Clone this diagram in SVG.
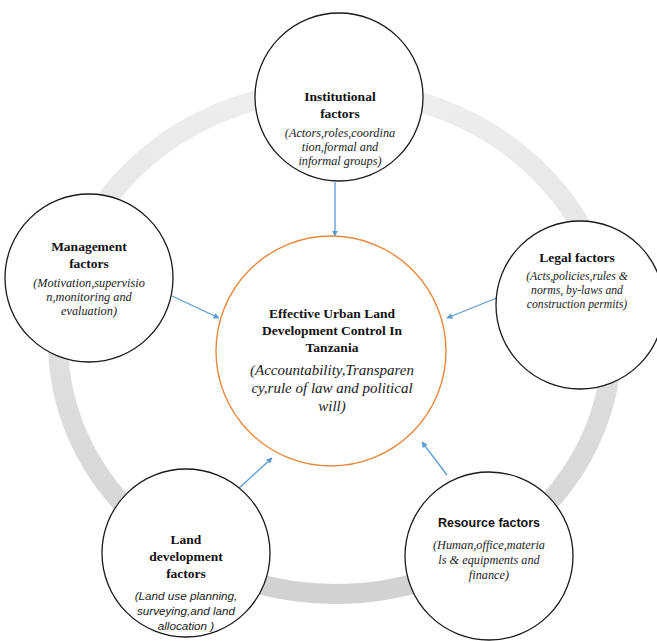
<svg xmlns="http://www.w3.org/2000/svg" width="657" height="641" viewBox="0 0 657 641">
  <style>
    .node { fill: #ffffff; stroke: #1a1a1a; stroke-width: 1.3; }
    .core { fill: #ffffff; stroke: #e8873a; stroke-width: 1.4; }
    .serif { font-family: "Liberation Serif", "Times New Roman", "DejaVu Serif", serif; }
    .title { font-weight: bold; font-size: 13.5px; fill: #111; text-anchor: middle; }
    .note { font-style: italic; font-size: 12.3px; fill: #222; text-anchor: middle; }
    .core-note { font-style: italic; font-size: 15px; fill: #222; text-anchor: middle; }
    .sans { font-family: "Liberation Sans", Arial, sans-serif; }
    .sans-title { font-weight: bold; font-size: 12.5px; fill: #111; text-anchor: middle; }
    .sans-note { font-style: italic; font-size: 11.7px; fill: #222; text-anchor: middle; }
    .link { stroke: #5b9bd5; stroke-width: 1.3; fill: none; marker-end: url(#tip); }
  </style>
  <defs>
    <linearGradient id="ringShade" x1="0" y1="0" x2="0" y2="1">
      <stop offset="0" stop-color="#eeeeee"/>
      <stop offset="1" stop-color="#d2d2d2"/>
    </linearGradient>
    <marker id="tip" viewBox="0 0 10 10" refX="9" refY="5" markerWidth="6" markerHeight="6" orient="auto" markerUnits="userSpaceOnUse">
      <path d="M0,0 L10,5 L0,10 z" fill="#5b9bd5"/>
    </marker>
  </defs>

  <rect width="657" height="641" fill="#ffffff"/>

  <!-- background ring -->
  <ellipse cx="335" cy="342" rx="277" ry="252" fill="none" stroke="url(#ringShade)" stroke-width="20"/>

  <!-- connectors -->
  <g id="connectors">
    <line class="link" x1="335" y1="182" x2="335" y2="236"/>
    <line class="link" x1="172" y1="296" x2="219" y2="318"/>
    <line class="link" x1="499" y1="297" x2="447" y2="318"/>
    <line class="link" x1="238" y1="489" x2="272" y2="458"/>
    <line class="link" x1="447" y1="475" x2="422" y2="442"/>
  </g>

  <g id="core" class="serif">
    <circle class="core" cx="331" cy="351" r="115"/>
    <text class="title" x="332" y="318">Effective Urban Land</text>
    <text class="title" x="332" y="335">Development Control In</text>
    <text class="title" x="332" y="352">Tanzania</text>
    <text class="core-note" x="332" y="375">(Accountability,Transparen</text>
    <text class="core-note" x="332" y="393">cy,rule of law and political</text>
    <text class="core-note" x="332" y="411">will)</text>
  </g>

  <g id="institutional" class="serif">
    <circle class="node" cx="339" cy="97" r="84"/>
    <text class="title" x="340" y="101">Institutional</text>
    <text class="title" x="340" y="118">factors</text>
    <text class="note" x="340" y="137">(Actors,roles,coordina</text>
    <text class="note" x="340" y="151">tion,formal and</text>
    <text class="note" x="340" y="165">informal groups)</text>
  </g>

  <g id="management" class="serif">
    <circle class="node" cx="89" cy="278" r="84"/>
    <text class="title" x="89" y="251">Management</text>
    <text class="title" x="89" y="268">factors</text>
    <text class="note" x="89" y="287">(Motivation,supervisio</text>
    <text class="note" x="89" y="301">n,monitoring and</text>
    <text class="note" x="89" y="315">evaluation)</text>
  </g>

  <g id="legal" class="serif">
    <circle class="node" cx="580" cy="305" r="84"/>
    <text class="title" x="577" y="262">Legal factors</text>
    <text class="note" x="577" y="280" style="font-size:11.7px">(Acts,policies,rules &amp;</text>
    <text class="note" x="577" y="294" style="font-size:11.7px">norms, by-laws and</text>
    <text class="note" x="577" y="308" style="font-size:11.7px">construction permits)</text>
  </g>

  <g id="land-development" class="serif">
    <circle class="node" cx="186" cy="553" r="84"/>
    <text class="title" x="186" y="544">Land</text>
    <text class="title" x="186" y="561">development</text>
    <text class="title" x="186" y="578">factors</text>
    <text class="sans sans-note" x="186" y="600">(Land use planning,</text>
    <text class="sans sans-note" x="186" y="615">surveying,and land</text>
    <text class="sans sans-note" x="186" y="630">allocation )</text>
  </g>

  <g id="resource" class="serif">
    <circle class="node" cx="489" cy="556" r="84"/>
    <text class="sans sans-title" x="489" y="527">Resource factors</text>
    <text class="note" x="489" y="549">(Human,office,materia</text>
    <text class="note" x="489" y="564">ls &amp; equipments and</text>
    <text class="note" x="489" y="579">finance)</text>
  </g>
</svg>
